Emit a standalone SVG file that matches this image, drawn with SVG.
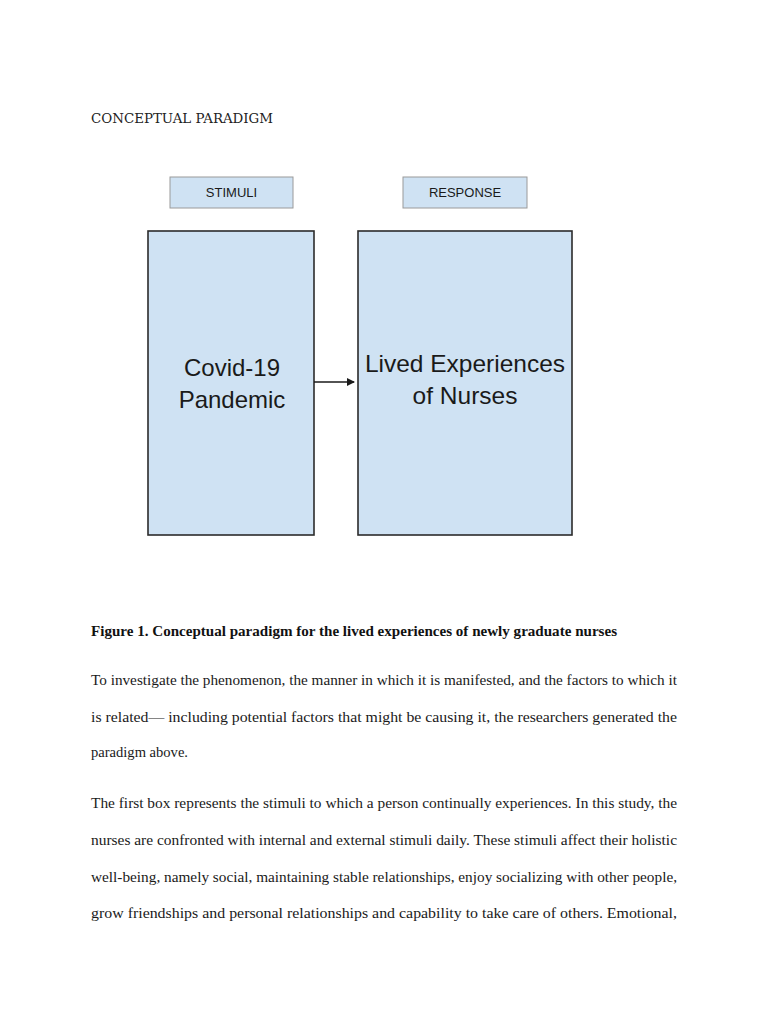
<svg xmlns="http://www.w3.org/2000/svg" width="768" height="1024" viewBox="0 0 768 1024">
<style>
.page{fill:#fff}
.lbl{fill:#cfe2f3;stroke:#9a9a9a;stroke-width:1}
.box{fill:#cfe2f3;stroke:#2b2b2b;stroke-width:1.6}
.sans{font-family:"Liberation Sans",Arial,sans-serif;fill:#1a1a1a}
.serif{font-family:"Liberation Serif","Times New Roman",serif;fill:#1a1a1a;font-size:15.5px}
.title{font-family:"DejaVu Serif","Liberation Serif",serif;font-size:13px;fill:#222}
.cap{font-family:"Liberation Serif","Times New Roman",serif;font-weight:bold;font-size:15px;fill:#111}
</style>
<defs>
<marker id="arr" markerWidth="8" markerHeight="8" refX="7" refY="4" orient="auto" markerUnits="userSpaceOnUse">
<path d="M0,0 L8,4 L0,8 z" fill="#1a1a1a"/>
</marker>
</defs>
<rect class="page" x="0" y="0" width="768" height="1024"/>
<text class="title" x="91" y="123" textLength="182" lengthAdjust="spacingAndGlyphs">CONCEPTUAL PARADIGM</text>
<g id="stimuli">
<rect class="lbl" x="170" y="177" width="123" height="31"/>
<text class="sans" x="231.5" y="197" font-size="13" text-anchor="middle">STIMULI</text>
</g>
<g id="response">
<rect class="lbl" x="403" y="177" width="124" height="31"/>
<text class="sans" x="465" y="197" font-size="13" text-anchor="middle">RESPONSE</text>
</g>
<g id="covid">
<rect class="box" x="148" y="231" width="166" height="304"/>
<text class="sans" x="232" y="376" font-size="24" text-anchor="middle">Covid-19</text>
<text class="sans" x="232" y="408" font-size="24" text-anchor="middle">Pandemic</text>
</g>
<g id="lived">
<rect class="box" x="358" y="231" width="214" height="304"/>
<text class="sans" x="465" y="372" font-size="24.5" text-anchor="middle">Lived Experiences</text>
<text class="sans" x="465" y="404" font-size="24.5" text-anchor="middle">of Nurses</text>
</g>
<g id="connectors">
<line x1="314" y1="382" x2="354" y2="382" stroke="#1a1a1a" stroke-width="1.5" marker-end="url(#arr)"/>
</g>
<text class="cap" x="91" y="636" textLength="526" lengthAdjust="spacingAndGlyphs">Figure 1. Conceptual paradigm for the lived experiences of newly graduate nurses</text>
<text class="serif" x="91" y="685" textLength="586" lengthAdjust="spacingAndGlyphs">To investigate the phenomenon, the manner in which it is manifested, and the factors to which it</text>
<text class="serif" x="91" y="722" textLength="586" lengthAdjust="spacingAndGlyphs">is related— including potential factors that might be causing it, the researchers generated the</text>
<text class="serif" x="91" y="757" textLength="97" lengthAdjust="spacingAndGlyphs">paradigm above.</text>
<text class="serif" x="91" y="808" textLength="586" lengthAdjust="spacingAndGlyphs">The first box represents the stimuli to which a person continually experiences. In this study, the</text>
<text class="serif" x="91" y="845" textLength="586" lengthAdjust="spacingAndGlyphs">nurses are confronted with internal and external stimuli daily. These stimuli affect their holistic</text>
<text class="serif" x="91" y="882" textLength="586" lengthAdjust="spacingAndGlyphs">well-being, namely social, maintaining stable relationships, enjoy socializing with other people,</text>
<text class="serif" x="91" y="918" textLength="586" lengthAdjust="spacingAndGlyphs">grow friendships and personal relationships and capability to take care of others. Emotional,</text>
</svg>
